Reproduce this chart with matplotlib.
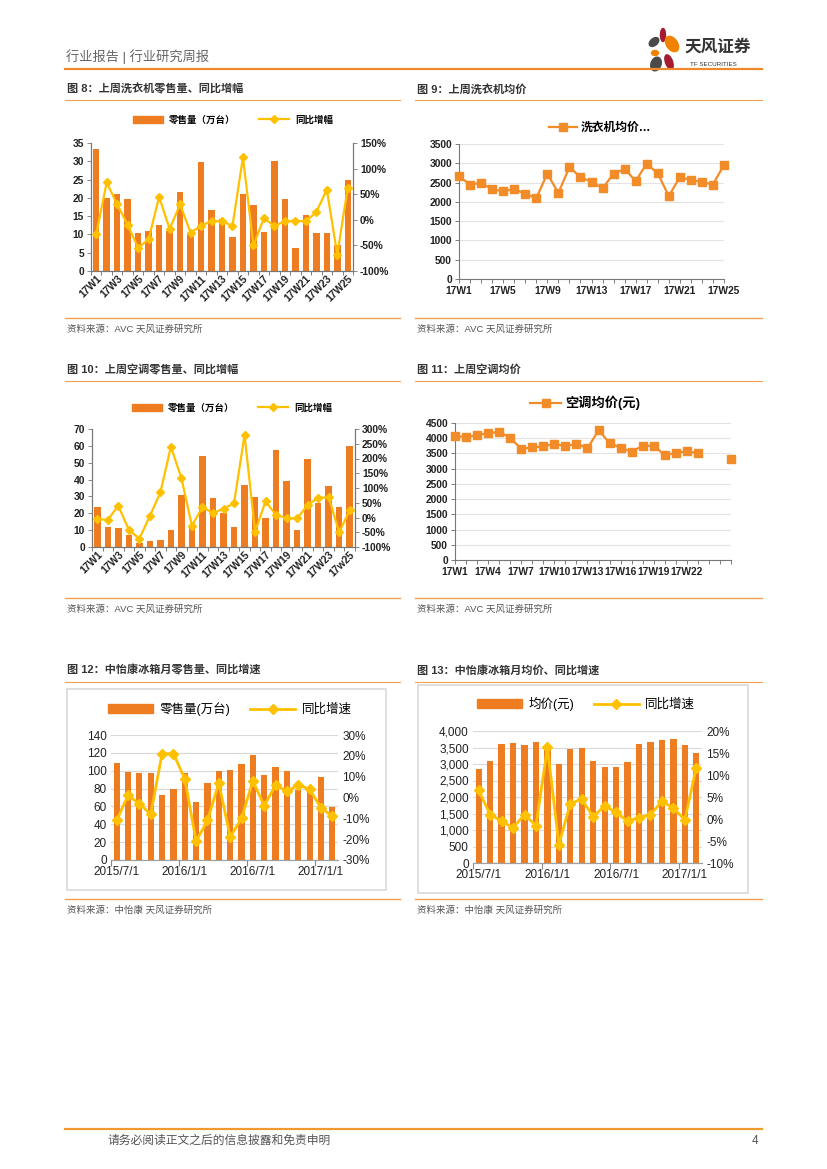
import matplotlib
matplotlib.use('Agg')
import matplotlib.pyplot as plt
import numpy as np
from matplotlib.lines import Line2D
from matplotlib.patches import Patch, Ellipse, Rectangle
from matplotlib.ticker import FuncFormatter, FixedLocator

plt.rcParams['font.family'] = ['Liberation Sans', 'Noto Sans CJK SC', 'DejaVu Sans']

# ---------------- data ----------------
weeks = ['17W%d' % i for i in range(1, 26)]
weeks_ac = weeks[:-1] + ['17w25']
weeks26 = ['17W%d' % i for i in range(1, 27)]

wm_sales = [33.3, 20.0, 21.0, 19.8, 10.5, 11.0, 12.6, 11.0, 21.5, 10.5, 29.8, 16.8, 14.2,
            9.4, 21.0, 18.0, 10.6, 30.0, 19.6, 6.2, 15.4, 10.3, 10.3, 7.0, 25.0]
wm_yoy = [-28, 73, 30, -10, -55, -38, 45, -18, 30, -25, -12, -2, -3, -12, 122, -50, 3,
          -12, -3, -2, -3, 15, 59, -68, 63]

wm_price = [2660, 2450, 2490, 2330, 2270, 2340, 2200, 2100, 2730, 2230, 2900, 2640, 2520,
            2350, 2730, 2850, 2540, 2990, 2740, 2150, 2640, 2570, 2510, 2450, 2960]

ac_sales = [24, 12, 11, 7, 2.5, 3.5, 4, 10, 31, 13, 54, 29, 20, 12, 36.5, 29.5, 17, 57.5,
            39, 10, 52, 26, 36, 23.5, 60]
ac_yoy = [-5, -8, 40, -42, -72, 5, 85, 240, 133, -28, 35, 15, 30, 48, 280, -48, 55, 8,
          -2, -3, 42, 67, 68, -50, 25]

ac_price = [4080, 4030, 4110, 4160, 4210, 4010, 3650, 3700, 3730, 3820, 3740, 3820, 3670,
            4260, 3850, 3680, 3560, 3750, 3750, 3450, 3510, 3580, 3500, np.nan, np.nan, 3320]
ac_label_idx = [0, 3, 6, 9, 12, 15, 18, 21]

months = ['2015/7/1', '2015/8/1', '2015/9/1', '2015/10/1', '2015/11/1', '2015/12/1',
          '2016/1/1', '2016/2/1', '2016/3/1', '2016/4/1', '2016/5/1', '2016/6/1',
          '2016/7/1', '2016/8/1', '2016/9/1', '2016/10/1', '2016/11/1', '2016/12/1',
          '2017/1/1', '2017/2/1']
fr_sales = [109, 99, 98, 97, 73, 80, 97, 65, 86, 100, 101, 108, 118, 95, 104, 100, 78, 80, 93, 59]
fr_sales_yoy = [-11, 1, -3, -8, 21, 21, 9, -21, -11, 7, -19, -10, 8, -4, 6, 3, 6, 4, -5, -9]

fr_price = [2850, 3080, 3600, 3650, 3590, 3670, 3560, 3000, 3460, 3470, 3080, 2920, 2900,
            3060, 3620, 3680, 3730, 3760, 3570, 3340]
fr_price_yoy = [6.5, 1.0, -0.5, -2.0, 1.0, -1.5, 16.3, -5.8, 3.5, 4.5, 0.5, 3.0, 1.5,
                -0.5, 0.3, 1.0, 4.0, 2.5, -0.2, 11.7]

# ---------------- style ----------------
ORANGE = '#EE7D22'
YELLOW = '#FFC000'
LINE_OR = '#F28C28'
RULE = '#F0A050'
TXT = '#333333'

W, H = 827, 1169
fig = plt.figure(figsize=(8.27, 11.69), dpi=100)


def rect(x0, y0, x1, y1):
    return [x0 / W, 1 - y1 / H, (x1 - x0) / W, (y1 - y0) / H]


def ftext(x, y, s, **kw):
    kw.setdefault('va', 'center')
    fig.text(x / W, 1 - y / H, s, **kw)


def hline(x0, x1, y, color=RULE, lw=1.0):
    fig.add_artist(Line2D([x0 / W, x1 / W], [1 - y / H, 1 - y / H], color=color, lw=lw,
                          transform=fig.transFigure))


def pct(v, pos):
    return '%d%%' % round(v)


# ---------------- header / footer ----------------
ftext(66, 57, '行业报告 | 行业研究周报', fontsize=9.5, color='#666666')
hline(65, 762, 69, color='#EE8A2C', lw=1.6)
logo = fig.add_axes(rect(645, 26, 685, 74))
logo.set_xlim(0, 40)
logo.set_ylim(48, 0)
logo.set_aspect('equal')
logo.axis('off')
for (cx, cy, w, h, ang, c) in [(18, 9, 5, 13, 0, '#A51B30'), (9, 16, 7, 11, 50, '#4A4A4A'),
                               (27, 18, 11, 17, -35, '#F08300'), (10, 27, 7, 5, 0, '#F08300'),
                               (11, 38, 10, 14, 20, '#4A4A4A'), (24, 36, 7, 15, -20, '#A51B30')]:
    logo.add_patch(Ellipse((cx, cy), w, h, angle=ang, color=c))
ftext(684, 47, '天风证券', fontsize=12, color='#333333', weight='bold')
ftext(690, 64, 'TF SECURITIES', fontsize=4.5, color='#333333')

hline(65, 762, 1129, color='#EE9A2C', lw=1.6)
ftext(107, 1141, '请务必阅读正文之后的信息披露和免责申明', fontsize=8.5, color='#555555')
ftext(752, 1141, '4', fontsize=8.5, color='#555555')

# ---------------- section frames ----------------
def section(x0, x1, ytitle, yrule, ybottom, title, source):
    ftext(x0 + 2, ytitle, title, fontsize=8, color=TXT, weight='bold')
    hline(x0, x1, yrule, lw=0.8)
    hline(x0, x1, ybottom, lw=1.0)
    ftext(x0 + 2, ybottom + 11, source, fontsize=6.8, color='#555555')


section(65, 400, 89, 100, 318, '图 8：上周洗衣机零售量、同比增幅', '资料来源：AVC 天风证券研究所')
section(415, 762, 89, 100, 318, '图 9：上周洗衣机均价', '资料来源：AVC 天风证券研究所')
section(65, 400, 370, 381, 598, '图 10：上周空调零售量、同比增幅', '资料来源：AVC 天风证券研究所')
section(415, 762, 370, 381, 598, '图 11：上周空调均价', '资料来源：AVC 天风证券研究所')
section(65, 400, 670, 682, 899, '图 12：中怡康冰箱月零售量、同比增速', '资料来源：中怡康 天风证券研究所')
section(415, 762, 670, 682, 899, '图 13：中怡康冰箱月均价、同比增速', '资料来源：中怡康 天风证券研究所')

# boxes for charts 12/13
for (x0, y0, x1, y1) in [(67, 689, 386, 890), (418, 685, 748, 893)]:
    fig.add_artist(Rectangle((x0 / W, 1 - y1 / H), (x1 - x0) / W, (y1 - y0) / H,
                             transform=fig.transFigure, fill=False, edgecolor='#D9D9D9', lw=1.2))


# ---------------- weekly bar + line ----------------
def weekly_combo(r, labels, bars, yoy, lmax, lstep, rmin, rmax, rstep, leg_y, leg_x, bar_lbl, line_lbl):
    ax = fig.add_axes(rect(*r))
    x = np.arange(len(bars))
    ax.bar(x, bars, width=0.62, color=ORANGE, zorder=2)
    ax.set_xlim(-0.5, len(bars) - 0.5)
    ax.set_ylim(0, lmax)
    ax.set_yticks(np.arange(0, lmax + 0.1, lstep))
    ax2 = ax.twinx()
    ax2.plot(x, yoy, color=YELLOW, lw=1.6, marker='D', ms=4.5, zorder=3, clip_on=False)
    ax2.set_ylim(rmin, rmax)
    ax2.set_yticks(np.arange(rmin, rmax + 0.1, rstep))
    ax2.yaxis.set_major_formatter(FuncFormatter(pct))
    ax.set_xticks(x[::2])
    ax.set_xticklabels(labels[::2], rotation=45, ha='right', rotation_mode='anchor')
    ax.xaxis.set_minor_locator(FixedLocator(np.arange(-0.5, len(bars), 1)))
    ax.tick_params(axis='x', which='major', length=0, pad=2)
    ax.tick_params(axis='x', which='minor', length=3, width=0.6, color='#666666')
    for a in (ax, ax2):
        a.spines['top'].set_visible(False)
        for s in ('left', 'right', 'bottom'):
            a.spines[s].set_color('#777777')
            a.spines[s].set_linewidth(0.8)
        a.tick_params(axis='y', length=3, width=0.6, color='#777777', pad=2)
        for t in a.get_yticklabels() + a.get_xticklabels():
            t.set_fontsize(7.4)
            t.set_fontweight('bold')
            t.set_color('#222222')
    handles = [Patch(color=ORANGE), Line2D([], [], color=YELLOW, lw=1.6, marker='D', ms=4)]
    fig.legend(handles, [bar_lbl, line_lbl], loc='center', bbox_to_anchor=(leg_x / W, 1 - leg_y / H),
               ncol=2, frameon=False, prop={'size': 6.8, 'weight': 'bold'},
               handlelength=3.2, columnspacing=2.5, handletextpad=0.6)
    return ax


weekly_combo((91, 143, 353, 271), weeks, wm_sales, wm_yoy, 35, 5, -100, 150, 50, 120, 233,
             '零售量（万台）', '同比增幅')
weekly_combo((92, 429, 355, 547), weeks_ac, ac_sales, ac_yoy, 70, 10, -100, 300, 50, 408, 232,
             '零售量（万台）', '同比增幅')


# ---------------- weekly price line ----------------
def price_line(r, labels, vals, ymax, step, label_idx, leg_y, leg_x, lbl, legsize):
    ax = fig.add_axes(rect(*r))
    x = np.arange(len(vals))
    ax.plot(x, vals, color=LINE_OR, lw=1.6, marker='s', ms=6, zorder=3, clip_on=False)
    ax.set_xlim(0, len(vals) - 1)
    ax.set_ylim(0, ymax)
    ax.set_yticks(np.arange(0, ymax + 1, step))
    ax.set_xticks(label_idx)
    ax.set_xticklabels([labels[i] for i in label_idx])
    ax.xaxis.set_minor_locator(FixedLocator(x))
    ax.tick_params(axis='x', which='both', length=3, width=0.6, color='#666666', pad=2)
    ax.tick_params(axis='y', length=3, width=0.6, color='#666666', pad=2)
    ax.grid(axis='y', color='#E3E3E3', lw=0.8, zorder=0)
    ax.set_axisbelow(True)
    for s in ('top', 'right'):
        ax.spines[s].set_visible(False)
    for s in ('left', 'bottom'):
        ax.spines[s].set_color('#777777')
        ax.spines[s].set_linewidth(0.8)
    for t in ax.get_yticklabels() + ax.get_xticklabels():
        t.set_fontsize(7.4)
        t.set_fontweight('bold')
        t.set_color('#222222')
    h = Line2D([], [], color=LINE_OR, lw=1.6, marker='s', ms=6)
    fig.legend([h], [lbl], loc='center', bbox_to_anchor=(leg_x / W, 1 - leg_y / H),
               frameon=False, prop={'size': legsize, 'weight': 'bold'}, handlelength=2.4,
               handletextpad=0.3)
    return ax


price_line((459, 144, 724, 279), weeks, wm_price, 3500, 500, list(range(0, 25, 4)), 128, 600,
           '洗衣机均价…', 8.5)
price_line((455, 423, 731, 560), weeks26, ac_price, 4500, 500, ac_label_idx, 403, 585,
           '空调均价(元)', 9.5)


# ---------------- monthly combos ----------------
def monthly_combo(r, bars, yoy, lmax, lstep, rmin, rmax, rstep, lfmt, leg_y, leg_x, bar_lbl):
    ax = fig.add_axes(rect(*r))
    x = np.arange(len(bars))
    ax.bar(x, bars, width=0.55, color=ORANGE, zorder=2)
    ax.set_xlim(-0.5, len(bars) - 0.5)
    ax.set_ylim(0, lmax)
    ax.set_yticks(np.arange(0, lmax + 1, lstep))
    ax.yaxis.set_major_formatter(FuncFormatter(lfmt))
    ax.grid(axis='y', color='#D9D9D9', lw=0.8, zorder=0)
    ax.set_axisbelow(True)
    ax2 = ax.twinx()
    ax2.plot(x, yoy, color=YELLOW, lw=2.0, marker='D', ms=5.5, zorder=3)
    ax2.set_ylim(rmin, rmax)
    ax2.set_yticks(np.arange(rmin, rmax + 0.1, rstep))
    ax2.yaxis.set_major_formatter(FuncFormatter(pct))
    ax.set_xticks(np.arange(-0.5, len(bars), 6))
    ax.set_xticklabels([])
    ax.set_xticks(x[::6], minor=True)
    ax.set_xticklabels([months[i] for i in x[::6]], minor=True)
    ax.tick_params(axis='x', which='major', length=4, width=0.8, color='#888888')
    ax.tick_params(axis='x', which='minor', length=0, pad=4, labelsize=8.5, labelcolor='#222222')
    for a in (ax, ax2):
        for s in ('top', 'left', 'right'):
            a.spines[s].set_visible(False)
        a.spines['bottom'].set_color('#A0A0A0')
        a.tick_params(axis='y', length=0, pad=3, labelsize=8.5, labelcolor='#222222')
    handles = [Patch(color=ORANGE), Line2D([], [], color=YELLOW, lw=2.0, marker='D', ms=5)]
    fig.legend(handles, [bar_lbl, '同比增速'], loc='center', bbox_to_anchor=(leg_x / W, 1 - leg_y / H),
               ncol=2, frameon=False, prop={'size': 9}, handlelength=3.6, columnspacing=1.6,
               handletextpad=0.5)
    return ax


monthly_combo((111, 735, 338, 860), fr_sales, fr_sales_yoy, 140, 20, -30, 30, 10,
              lambda v, p: '%d' % v, 709, 230, '零售量(万台)')
monthly_combo((473, 731, 702, 863), fr_price, fr_price_yoy, 4000, 500, -10, 20, 5,
              lambda v, p: '{:,.0f}'.format(v), 704, 586, '均价(元)')

fig.savefig('out.png', dpi=100)
